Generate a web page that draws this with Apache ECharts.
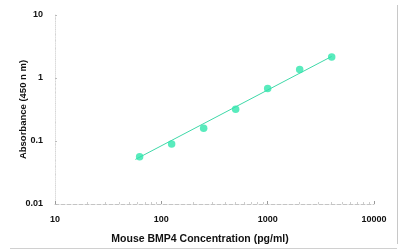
<!DOCTYPE html>
<html><head><meta charset="utf-8">
<script src="https://cdn.jsdelivr.net/npm/echarts@6/dist/echarts.min.js"></script>
<style>html,body{margin:0;padding:0;background:#fff}#c{width:411px;height:250px}</style>
</head><body><div id="c"></div>
<script>
const concentrations = [62.5, 125, 250, 500, 1000, 2000, 4000];
const absorbance = [0.056, 0.09, 0.16, 0.32, 0.68, 1.36, 2.15];
const fitX = [57, 4000];
const fitY = [0.051, 2.2];
const xTicks = [10, 100, 1000, 10000];
const yTicks = [0.01, 0.1, 1, 10];

const chart = echarts.init(document.getElementById('c'));
const font = 'Liberation Sans, Arial, sans-serif';
chart.setOption({
  animation: false,
  grid: {left: 55, right: 37, top: 15, bottom: 46, containLabel: false, outerBoundsMode: 'none'},
  xAxis: {
    type: 'log', logBase: 10, min: xTicks[0], max: xTicks[xTicks.length - 1],
    name: 'Mouse BMP4 Concentration (pg/ml)', nameLocation: 'middle', nameGap: 30, nameMoveOverlap: false,
    nameTextStyle: {fontFamily: font, fontWeight: 'bold', fontSize: 10.5, color: '#111', padding: [0, 29, 0, 0]},
    axisLine: {lineStyle: {color: '#c4c4c4', type: 'dashed', width: 1}},
    axisTick: {show: true, length: 3, inside: true, lineStyle: {color: '#999'}},
    minorTick: {show: true, splitNumber: 9, length: 2, lineStyle: {color: '#ccc'}},
    splitLine: {show: false},
    axisLabel: {fontFamily: font, fontWeight: 'bold', fontSize: 9, color: '#111', margin: 11,
      formatter: v => String(Math.round(v))}
  },
  yAxis: {
    type: 'log', logBase: 10, min: yTicks[0], max: yTicks[yTicks.length - 1],
    name: 'Absorbance (450 n m)', nameLocation: 'middle', nameGap: 27, nameMoveOverlap: false,
    nameTextStyle: {fontFamily: font, fontWeight: 'bold', fontSize: 9.5, color: '#111'},
    axisLine: {show: true, lineStyle: {color: '#dcdcdc', type: 'dotted', width: 1}},
    axisTick: {show: true, length: 2, inside: true, lineStyle: {color: '#bbb'}},
    minorTick: {show: true, splitNumber: 9, length: 1, lineStyle: {color: '#d4d4d4'}},
    splitLine: {show: false},
    axisLabel: {fontFamily: font, fontWeight: 'bold', fontSize: 9, color: '#111', margin: 12,
      formatter: v => String(v)}
  },
  graphic: [
    {type: 'line', shape: {x1: 397.5, y1: 5, x2: 397.5, y2: 244}, style: {stroke: '#c8c8c8', lineWidth: 1}},
    {type: 'line', shape: {x1: 10, y1: 248.5, x2: 397, y2: 248.5}, style: {stroke: '#d0d0d0', lineWidth: 1}}
  ],
  series: [
    {
      type: 'line', data: fitX.map((x, i) => [x, fitY[i]]), symbol: 'none',
      lineStyle: {color: '#3fd8a8', width: 1}, z: 1
    },
    {
      type: 'scatter', data: concentrations.map((x, i) => [x, absorbance[i]]),
      symbolSize: 7.5, itemStyle: {color: '#2fe6ac'}, z: 2
    }
  ]
});
</script></body></html>
